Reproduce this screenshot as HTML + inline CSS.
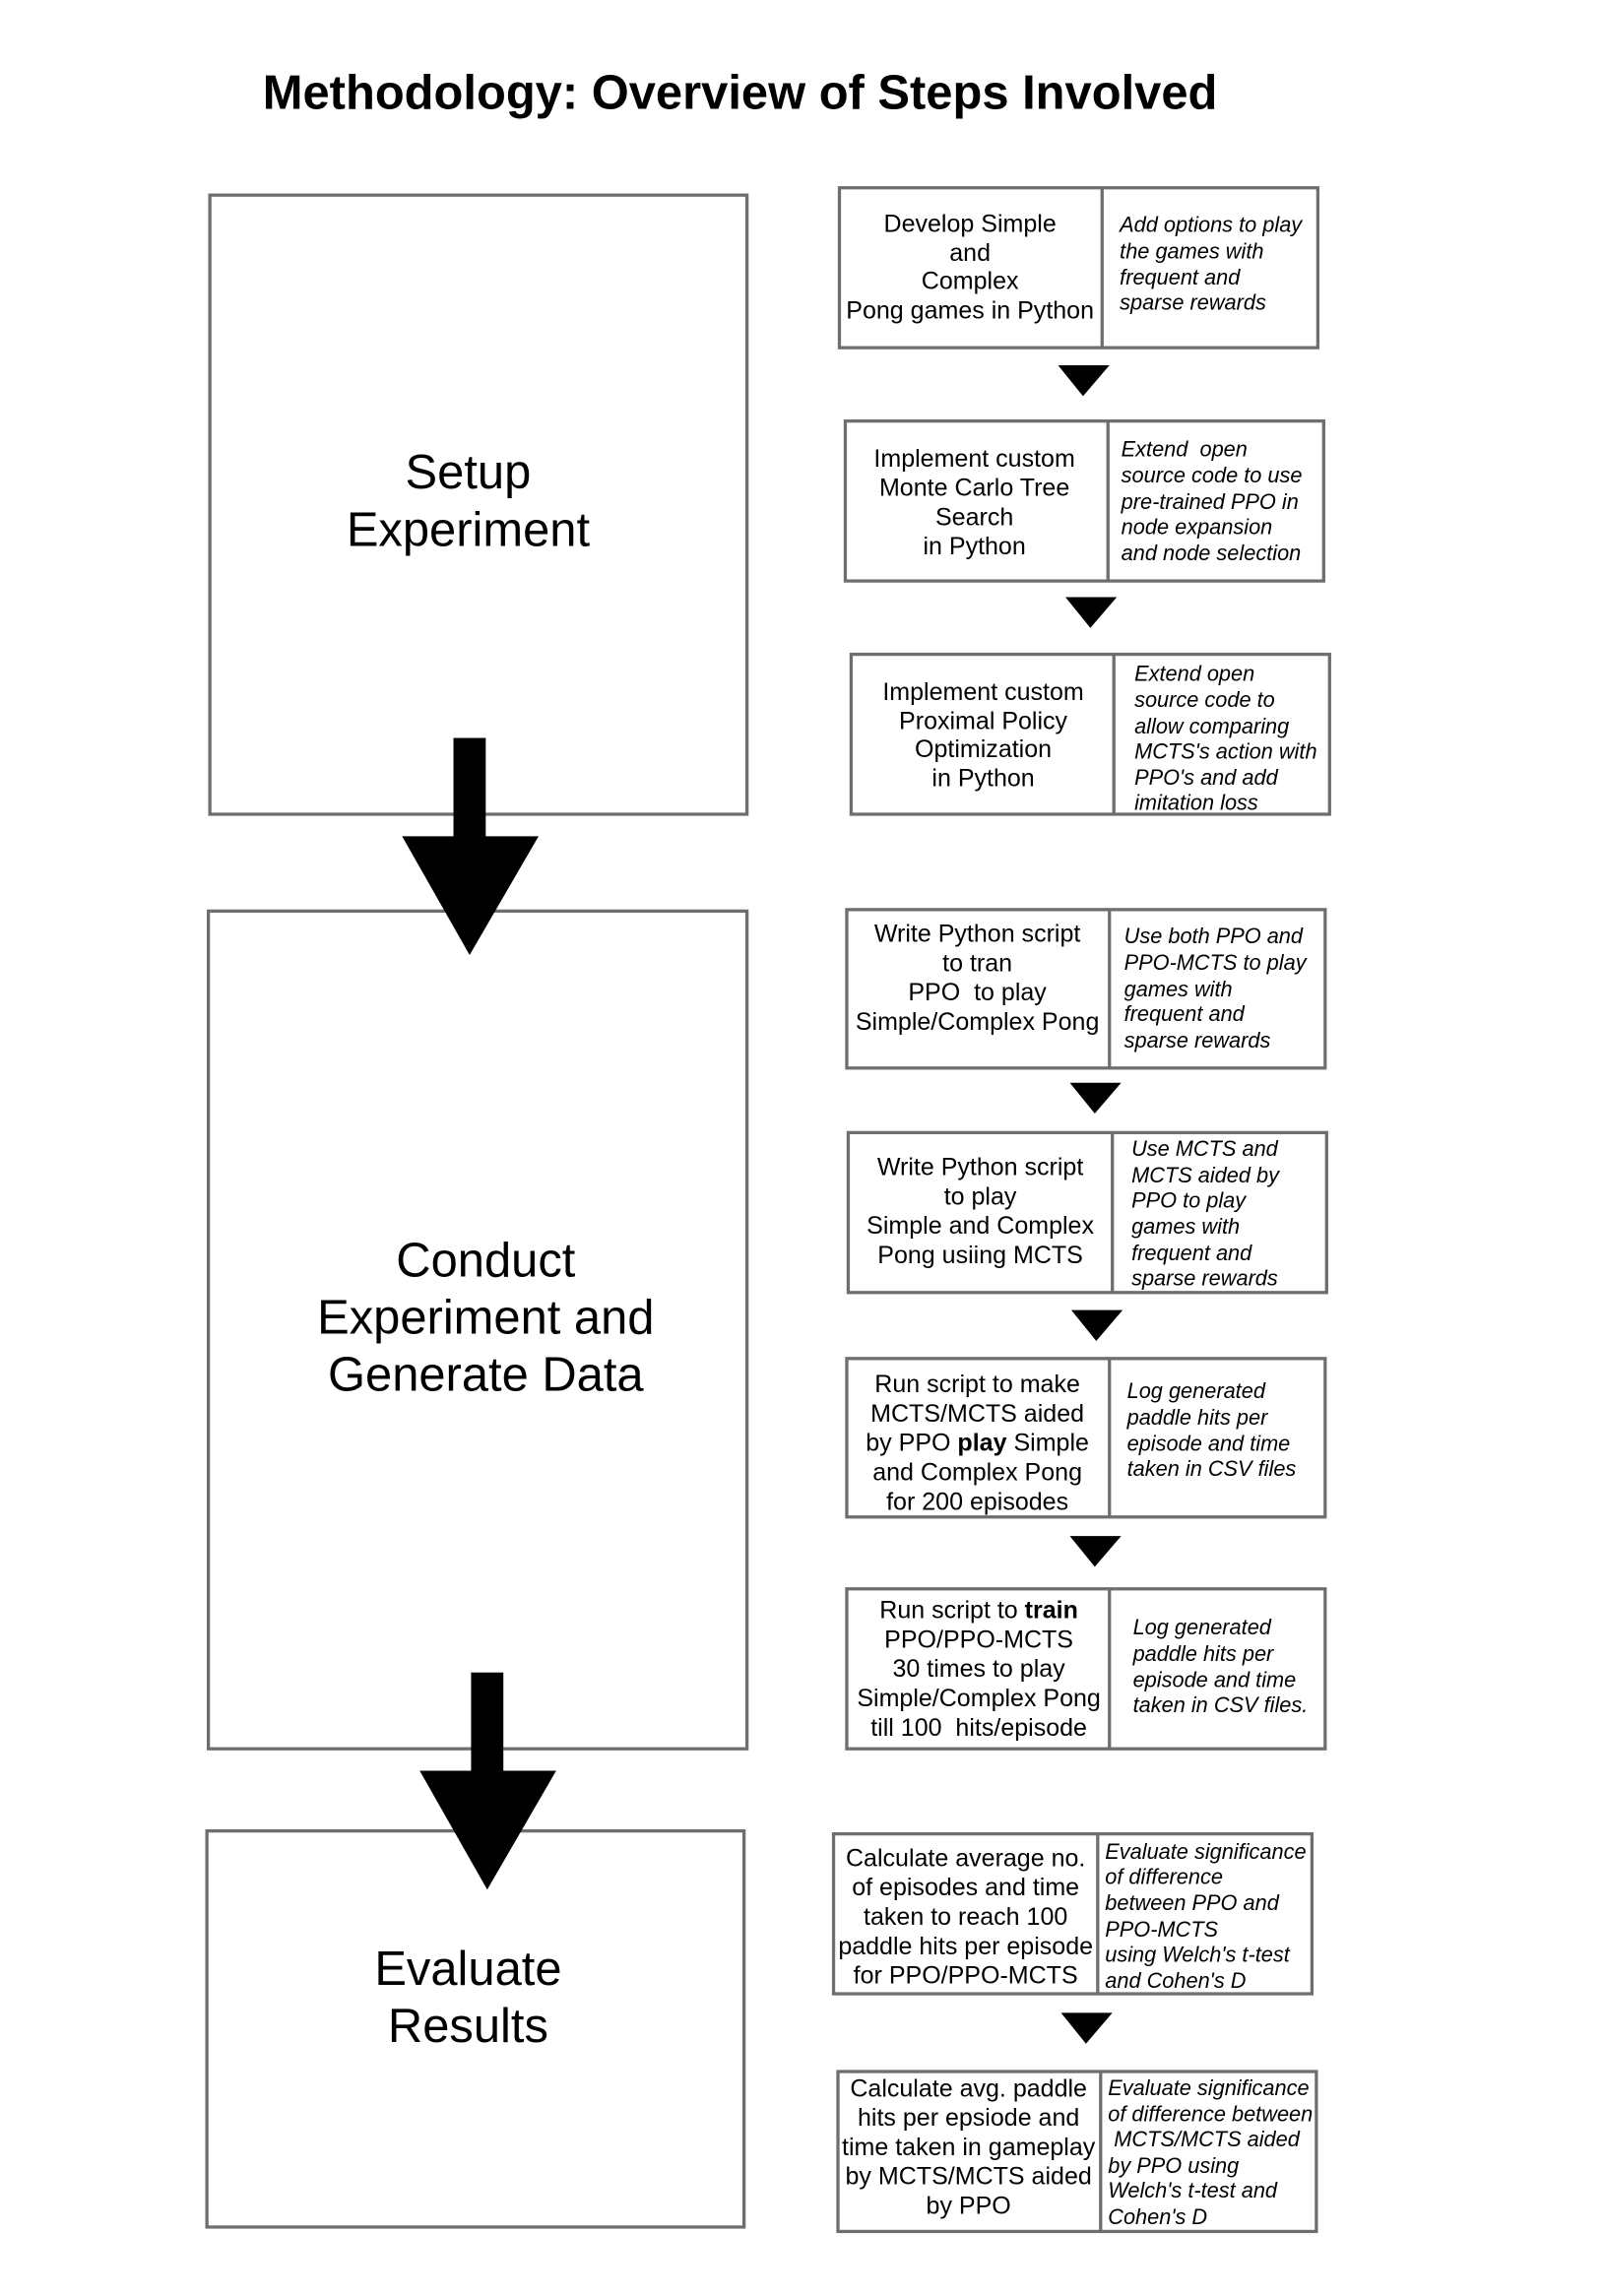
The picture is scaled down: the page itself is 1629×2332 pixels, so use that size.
<!DOCTYPE html>
<html><head><meta charset="utf-8"><style>
html,body{margin:0;padding:0;background:#fff;}
svg{display:block;}
text{font-family:"Liberation Sans",sans-serif;fill:#000;white-space:pre;}
.m{font-size:16.8px;text-anchor:middle;}
.i{font-size:14.6px;font-style:italic;}
.b{font-size:32.8px;text-anchor:middle;}
.bx{fill:#fff;stroke:#6e6e6e;stroke-width:2.2;}
</style></head><body>
<svg width="1629" height="2332" viewBox="0 0 1093 1565" preserveAspectRatio="none" xmlns="http://www.w3.org/2000/svg">
<text x="179" y="74" style="font-size:32.8px;font-weight:bold">Methodology: Overview of Steps Involved</text>

<rect class="bx" x="143" y="133" width="366" height="422"/>
<text class="b" x="319" y="333">Setup</text>
<text class="b" x="319" y="372">Experiment</text>
<rect class="bx" x="142" y="621" width="367" height="571"/>
<text class="b" x="331" y="870">Conduct</text>
<text class="b" x="331" y="909">Experiment and</text>
<text class="b" x="331" y="948">Generate Data</text>
<rect class="bx" x="141" y="1248" width="366" height="270"/>
<text class="b" x="319" y="1353">Evaluate</text>
<text class="b" x="319" y="1392">Results</text>

<rect x="309" y="503" width="22" height="70" fill="#000"/>
<polygon points="274,570 367,570 320,651" fill="#000"/>
<rect x="321" y="1140" width="22" height="70" fill="#000"/>
<polygon points="286,1207 379,1207 332,1288" fill="#000"/>

<rect class="bx" x="572" y="128" width="326" height="109"/><line class="bx" x1="751" y1="128" x2="751" y2="237"/>
<text class="m" x="661" y="158">Develop Simple</text><text class="m" x="661" y="178">and</text><text class="m" x="661" y="197">Complex</text><text class="m" x="661" y="217">Pong games in Python</text>
<text class="i" x="763" y="158">Add options to play</text><text class="i" x="763" y="176">the games with</text><text class="i" x="763" y="194">frequent and</text><text class="i" x="763" y="211">sparse rewards</text>
<polygon points="721,249 756,249 738,270" fill="#000"/>

<rect class="bx" x="576" y="287" width="326" height="109"/><line class="bx" x1="755" y1="287" x2="755" y2="396"/>
<text class="m" x="664" y="318">Implement custom</text><text class="m" x="664" y="338">Monte Carlo Tree</text><text class="m" x="664" y="358">Search</text><text class="m" x="664" y="378">in Python</text>
<text class="i" x="764" y="311">Extend  open</text><text class="i" x="764" y="329">source code to use</text><text class="i" x="764" y="347">pre-trained PPO in</text><text class="i" x="764" y="364">node expansion</text><text class="i" x="764" y="382">and node selection</text>
<polygon points="726,407 761,407 743,428" fill="#000"/>

<rect class="bx" x="580" y="446" width="326" height="109"/><line class="bx" x1="759" y1="446" x2="759" y2="555"/>
<text class="m" x="670" y="477">Implement custom</text><text class="m" x="670" y="497">Proximal Policy</text><text class="m" x="670" y="516">Optimization</text><text class="m" x="670" y="536">in Python</text>
<text class="i" x="773" y="464">Extend open</text><text class="i" x="773" y="482">source code to</text><text class="i" x="773" y="500">allow comparing</text><text class="i" x="773" y="517">MCTS's action with</text><text class="i" x="773" y="535">PPO's and add</text><text class="i" x="773" y="552">imitation loss</text>

<rect class="bx" x="577" y="620" width="326" height="108"/><line class="bx" x1="756" y1="620" x2="756" y2="728"/>
<text class="m" x="666" y="642">Write Python script</text><text class="m" x="666" y="662">to tran</text><text class="m" x="666" y="682">PPO  to play</text><text class="m" x="666" y="702">Simple/Complex Pong</text>
<text class="i" x="766" y="643">Use both PPO and</text><text class="i" x="766" y="661">PPO-MCTS to play</text><text class="i" x="766" y="679">games with</text><text class="i" x="766" y="696">frequent and</text><text class="i" x="766" y="714">sparse rewards</text>
<polygon points="729,738 764,738 746,759" fill="#000"/>

<rect class="bx" x="578" y="772" width="326" height="109"/><line class="bx" x1="758" y1="772" x2="758" y2="881"/>
<text class="m" x="668" y="801">Write Python script</text><text class="m" x="668" y="821">to play</text><text class="m" x="668" y="841">Simple and Complex</text><text class="m" x="668" y="861">Pong usiing MCTS</text>
<text class="i" x="771" y="788">Use MCTS and</text><text class="i" x="771" y="806">MCTS aided by</text><text class="i" x="771" y="823">PPO to play</text><text class="i" x="771" y="841">games with</text><text class="i" x="771" y="859">frequent and</text><text class="i" x="771" y="876">sparse rewards</text>
<polygon points="730,893 765,893 747,914" fill="#000"/>

<rect class="bx" x="577" y="926" width="326" height="108"/><line class="bx" x1="756" y1="926" x2="756" y2="1034"/>
<text class="m" x="666" y="949">Run script to make</text><text class="m" x="666" y="969">MCTS/MCTS aided</text><text class="m" x="666" y="989">by PPO <tspan font-weight="bold">play</tspan> Simple</text><text class="m" x="666" y="1009">and Complex Pong</text><text class="m" x="666" y="1029">for 200 episodes</text>
<text class="i" x="768" y="953">Log generated</text><text class="i" x="768" y="971">paddle hits per</text><text class="i" x="768" y="989">episode and time</text><text class="i" x="768" y="1006">taken in CSV files</text>
<polygon points="729,1047 764,1047 746,1068" fill="#000"/>

<rect class="bx" x="577" y="1083" width="326" height="109"/><line class="bx" x1="756" y1="1083" x2="756" y2="1192"/>
<text class="m" x="667" y="1103">Run script to <tspan font-weight="bold">train</tspan></text><text class="m" x="667" y="1123">PPO/PPO-MCTS</text><text class="m" x="667" y="1143">30 times to play</text><text class="m" x="667" y="1163">Simple/Complex Pong</text><text class="m" x="667" y="1183">till 100  hits/episode</text>
<text class="i" x="772" y="1114">Log generated</text><text class="i" x="772" y="1132">paddle hits per</text><text class="i" x="772" y="1150">episode and time</text><text class="i" x="772" y="1167">taken in CSV files.</text>

<rect class="bx" x="568" y="1250" width="326" height="109"/><line class="bx" x1="748" y1="1250" x2="748" y2="1359"/>
<text class="m" x="658" y="1272">Calculate average no.</text><text class="m" x="658" y="1292">of episodes and time</text><text class="m" x="658" y="1312">taken to reach 100</text><text class="m" x="658" y="1332">paddle hits per episode</text><text class="m" x="658" y="1352">for PPO/PPO-MCTS</text>
<text class="i" x="753" y="1267">Evaluate significance</text><text class="i" x="753" y="1284">of difference</text><text class="i" x="753" y="1302">between PPO and</text><text class="i" x="753" y="1320">PPO-MCTS</text><text class="i" x="753" y="1337">using Welch's t-test</text><text class="i" x="753" y="1355">and Cohen's D</text>
<polygon points="723,1372 758,1372 740,1393" fill="#000"/>

<rect class="bx" x="571" y="1412" width="326" height="109"/><line class="bx" x1="750" y1="1412" x2="750" y2="1521"/>
<text class="m" x="660" y="1429">Calculate avg. paddle</text><text class="m" x="660" y="1449">hits per epsiode and</text><text class="m" x="660" y="1469">time taken in gameplay</text><text class="m" x="660" y="1489">by MCTS/MCTS aided</text><text class="m" x="660" y="1509">by PPO</text>
<text class="i" x="755" y="1428">Evaluate significance</text><text class="i" x="755" y="1446">of difference between</text><text class="i" x="755" y="1463"> MCTS/MCTS aided</text><text class="i" x="755" y="1481">by PPO using</text><text class="i" x="755" y="1498">Welch's t-test and</text><text class="i" x="755" y="1516">Cohen's D</text>
</svg>
</body></html>
